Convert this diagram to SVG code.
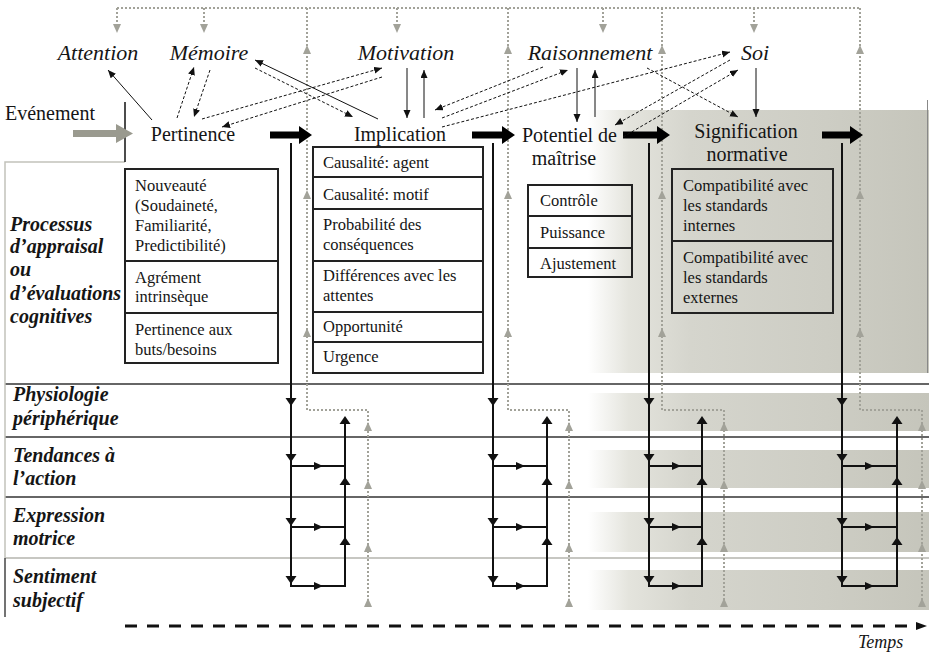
<svg xmlns="http://www.w3.org/2000/svg" width="929" height="656" viewBox="0 0 929 656" font-family="'Liberation Serif', 'Times New Roman', Tinos, 'DejaVu Serif', serif">
<style>
text{font-family:'Liberation Serif','Times New Roman',Tinos,'DejaVu Serif',serif;fill:#151515}
.top{font-size:22px;font-style:italic}
.stage{font-size:20px}
.box{font-size:16.5px}
.lab{font-size:20px;font-style:italic;font-weight:bold}
.frame{fill:none;stroke:#222;stroke-width:2}
.thin{fill:none;stroke:#111;stroke-width:1;marker-end:url(#ah)}
.dash{stroke-dasharray:3 2}
.flow{fill:none;stroke:#111;stroke-width:2}
.dot{fill:none;stroke:#a2a299;stroke-width:2;stroke-dasharray:2 2}
.row{stroke:#333;stroke-width:1.5}
</style>
<defs>
<linearGradient id="g" gradientUnits="userSpaceOnUse" x1="588" y1="0" x2="929" y2="0">
<stop offset="0" stop-color="#ffffff"/>
<stop offset="0.12" stop-color="#e4e4dd"/>
<stop offset="0.3" stop-color="#d5d5cd"/>
<stop offset="0.7" stop-color="#cdcdc4"/>
<stop offset="1" stop-color="#c5c5bb"/>
</linearGradient>
<marker id="ah" markerUnits="userSpaceOnUse" markerWidth="9" markerHeight="8" refX="8" refY="3.5" orient="auto">
<path d="M0,0 L8,3.5 L0,7 z" fill="#111"/>
</marker>
<path id="dn" d="M-5.5,-8 L5.5,-8 L0,0 z" fill="#111"/>
<path id="up" d="M-5.5,8 L5.5,8 L0,0 z" fill="#111"/>
<path id="rt" d="M-9,-4 L0,0 L-9,4 z" fill="#111"/>
<path id="gup" d="M-4,9 L4,9 L0,0 z" fill="#a2a299"/>
<path id="gdn" d="M-4,-9 L4,-9 L0,0 z" fill="#a2a299"/>
</defs>

<g id="background">
<rect x="588" y="110" width="341" height="263" fill="url(#g)"/>
<rect x="588" y="393" width="341" height="38" fill="url(#g)"/>
<rect x="588" y="450" width="341" height="38" fill="url(#g)"/>
<rect x="588" y="512" width="341" height="40" fill="url(#g)"/>
<rect x="570" y="570" width="359" height="40" fill="url(#g)"/>
<line x1="927.5" y1="100" x2="927.5" y2="373" stroke="#888" stroke-width="1"/>
<line x1="5" y1="384" x2="929" y2="384" class="row"/>
<line x1="5" y1="437" x2="929" y2="437" class="row"/>
<line x1="5" y1="497" x2="929" y2="497" class="row"/>
<line x1="5" y1="558" x2="929" y2="558" stroke="#b5b5ae" stroke-width="1.5"/>
<path d="M125,162 H5 V558" fill="none" stroke="#c2c2bb" stroke-width="1.5"/>
<line x1="5" y1="558" x2="5" y2="617" stroke="#444" stroke-width="1.5"/>
<line x1="125" y1="102" x2="125" y2="162" stroke="#111" stroke-width="1.5"/>
</g>

<g id="labels">
<text class="lab" x="10" y="231">Processus</text>
<text class="lab" x="10" y="253">d’appraisal</text>
<text class="lab" x="10" y="276">ou</text>
<text class="lab" x="10" y="300">d’évaluations</text>
<text class="lab" x="10" y="323">cognitives</text>
<text class="lab" x="13" y="401">Physiologie</text>
<text class="lab" x="13" y="425">périphérique</text>
<text class="lab" x="13" y="462">Tendances à</text>
<text class="lab" x="13" y="485">l’action</text>
<text class="lab" x="13" y="522">Expression</text>
<text class="lab" x="13" y="545">motrice</text>
<text class="lab" x="13" y="583">Sentiment</text>
<text class="lab" x="13" y="607">subjectif</text>
</g>

<g id="attention"><text class="top" x="98" y="60" text-anchor="middle">Attention</text></g>
<g id="memoire"><text class="top" x="209" y="60" text-anchor="middle">Mémoire</text></g>
<g id="motivation"><text class="top" x="406" y="60" text-anchor="middle">Motivation</text></g>
<g id="raisonnement"><text class="top" x="590" y="60" text-anchor="middle">Raisonnement</text></g>
<g id="soi"><text class="top" x="755" y="60" text-anchor="middle">Soi</text></g>

<g id="evenement"><text class="stage" x="5" y="120">Evénement</text></g>

<g id="pertinence">
<text class="stage" x="193" y="141" text-anchor="middle">Pertinence</text>
<rect class="frame" x="125" y="169" width="153" height="194"/>
<line class="frame" x1="125" y1="261" x2="278" y2="261"/>
<line class="frame" x1="125" y1="313" x2="278" y2="313"/>
<text class="box" x="135" y="191">Nouveauté</text>
<text class="box" x="135" y="211">(Soudaineté,</text>
<text class="box" x="135" y="231">Familiarité,</text>
<text class="box" x="135" y="251">Predictibilité)</text>
<text class="box" x="135" y="283">Agrément</text>
<text class="box" x="135" y="302">intrinsèque</text>
<text class="box" x="135" y="335">Pertinence aux</text>
<text class="box" x="135" y="355">buts/besoins</text>
</g>

<g id="implication">
<text class="stage" x="400" y="141" text-anchor="middle">Implication</text>
<rect class="frame" x="313" y="147" width="170" height="226"/>
<line class="frame" x1="313" y1="177" x2="483" y2="177"/>
<line class="frame" x1="313" y1="209" x2="483" y2="209"/>
<line class="frame" x1="313" y1="261" x2="483" y2="261"/>
<line class="frame" x1="313" y1="312" x2="483" y2="312"/>
<line class="frame" x1="313" y1="342" x2="483" y2="342"/>
<text class="box" x="323" y="168">Causalité: agent</text>
<text class="box" x="323" y="200">Causalité: motif</text>
<text class="box" x="323" y="230">Probabilité des</text>
<text class="box" x="323" y="250">conséquences</text>
<text class="box" x="323" y="281">Différences avec les</text>
<text class="box" x="323" y="301">attentes</text>
<text class="box" x="323" y="332">Opportunité</text>
<text class="box" x="323" y="362">Urgence</text>
</g>

<g id="potentiel">
<text class="stage" x="522" y="142">Potentiel de</text>
<text class="stage" x="564" y="165" text-anchor="middle">maîtrise</text>
<rect class="frame" x="528" y="185" width="104" height="92"/>
<line class="frame" x1="528" y1="216" x2="632" y2="216"/>
<line class="frame" x1="528" y1="248" x2="632" y2="248"/>
<text class="box" x="540" y="206">Contrôle</text>
<text class="box" x="540" y="238">Puissance</text>
<text class="box" x="540" y="269">Ajustement</text>
</g>

<g id="signification">
<text class="stage" x="746" y="138" text-anchor="middle">Signification</text>
<text class="stage" x="747" y="161" text-anchor="middle">normative</text>
<rect class="frame" x="672" y="169" width="161" height="144"/>
<line class="frame" x1="672" y1="241" x2="833" y2="241"/>
<text class="box" x="683" y="191">Compatibilité avec</text>
<text class="box" x="683" y="211">les standards</text>
<text class="box" x="683" y="231">internes</text>
<text class="box" x="683" y="263">Compatibilité avec</text>
<text class="box" x="683" y="283">les standards</text>
<text class="box" x="683" y="303">externes</text>
</g>

<g id="temps"><text class="top" x="858" y="648" style="font-size:18px">Temps</text></g>

<g id="connectors">
<path class="dot" d="M117,8 H860"/>
<path class="dot" d="M117,8 V26 M204,8 V26 M397,8 V26 M603,8 V26 M754,8 V26"/>
<use href="#gdn" x="117" y="33"/><use href="#gdn" x="204" y="33"/><use href="#gdn" x="397" y="33"/><use href="#gdn" x="603" y="33"/><use href="#gdn" x="754" y="33"/>
<path class="dot" d="M307,8 V410 H368 V606"/>
<path class="dot" d="M508,8 V410 H569 V606"/>
<path class="dot" d="M662,8 V410 H724 V606"/>
<path class="dot" d="M860,8 V410 H922 V606"/>
<use href="#gup" x="307" y="45"/><use href="#gup" x="307" y="190"/><use href="#gup" x="307" y="328"/>
<use href="#gup" x="368" y="422"/><use href="#gup" x="368" y="480"/><use href="#gup" x="368" y="543"/><use href="#gup" x="368" y="598"/>
<use href="#gup" x="508" y="45"/><use href="#gup" x="508" y="190"/><use href="#gup" x="508" y="328"/>
<use href="#gup" x="569" y="422"/><use href="#gup" x="569" y="480"/><use href="#gup" x="569" y="543"/><use href="#gup" x="569" y="598"/>
<use href="#gup" x="662" y="45"/><use href="#gup" x="662" y="190"/><use href="#gup" x="662" y="328"/>
<use href="#gup" x="724" y="422"/><use href="#gup" x="724" y="480"/><use href="#gup" x="724" y="543"/><use href="#gup" x="724" y="598"/>
<use href="#gup" x="860" y="45"/><use href="#gup" x="860" y="190"/><use href="#gup" x="860" y="328"/>
<use href="#gup" x="922" y="422"/><use href="#gup" x="922" y="480"/><use href="#gup" x="922" y="543"/><use href="#gup" x="922" y="598"/>

<polygon points="73,130 116,130 116,124 133,133.5 116,143 116,137 73,137" fill="#9a9a8f"/>
<polygon points="270,131.5 299,131.5 299,126 312,135 299,144 299,138.5 270,138.5" fill="#000"/>
<polygon points="472,131.5 502,131.5 502,126 515,135 502,144 502,138.5 472,138.5" fill="#000"/>
<polygon points="623,131.5 657,131.5 657,126 670,135 657,144 657,138.5 623,138.5" fill="#000"/>
<polygon points="822,131.5 850,131.5 850,126 863,135 850,144 850,138.5 822,138.5" fill="#000"/>

<line class="thin" x1="152" y1="120" x2="108" y2="70"/>
<line class="thin dash" x1="177" y1="118" x2="194" y2="67"/>
<line class="thin dash" x1="210" y1="70" x2="194" y2="117"/>
<line class="thin dash" x1="202" y1="119" x2="382" y2="68"/>
<line class="thin dash" x1="382" y1="77" x2="222" y2="127"/>
<line class="thin" x1="378" y1="119" x2="255" y2="60"/>
<line class="thin dash" x1="255" y1="68" x2="353" y2="117"/>
<line class="thin" x1="407" y1="68" x2="407" y2="118"/>
<line class="thin" x1="424" y1="118" x2="424" y2="70"/>
<line class="thin dash" x1="543" y1="67" x2="435" y2="110"/>
<line class="thin dash" x1="442" y1="118" x2="568" y2="70"/>
<line class="thin dash" x1="442" y1="127" x2="730" y2="52"/>
<line class="thin" x1="577" y1="68" x2="577" y2="122"/>
<line class="thin" x1="595" y1="117" x2="595" y2="70"/>
<line class="thin dash" x1="730" y1="60" x2="615" y2="125"/>
<line class="thin dash" x1="623" y1="137" x2="738" y2="70"/>
<line class="thin dash" x1="647" y1="68" x2="738" y2="117"/>
<line class="thin" x1="756" y1="68" x2="756" y2="117"/>

<path class="flow" d="M291,143 V586 H345 V418 M291,466 H345 M291,527 H345"/>
<use href="#dn" x="291" y="406"/><use href="#dn" x="291" y="462"/><use href="#dn" x="291" y="526"/><use href="#dn" x="291" y="584"/>
<use href="#rt" x="323" y="466"/><use href="#rt" x="323" y="527"/><use href="#rt" x="323" y="586"/>
<use href="#up" x="345" y="416"/><use href="#up" x="345" y="477"/><use href="#up" x="345" y="537"/>

<path class="flow" d="M493,143 V586 H547 V418 M493,466 H547 M493,527 H547"/>
<use href="#dn" x="493" y="406"/><use href="#dn" x="493" y="462"/><use href="#dn" x="493" y="526"/><use href="#dn" x="493" y="584"/>
<use href="#rt" x="525" y="466"/><use href="#rt" x="525" y="527"/><use href="#rt" x="525" y="586"/>
<use href="#up" x="547" y="416"/><use href="#up" x="547" y="477"/><use href="#up" x="547" y="537"/>

<path class="flow" d="M649,143 V586 H702 V418 M649,466 H702 M649,527 H702"/>
<use href="#dn" x="649" y="406"/><use href="#dn" x="649" y="462"/><use href="#dn" x="649" y="526"/><use href="#dn" x="649" y="584"/>
<use href="#rt" x="681" y="466"/><use href="#rt" x="681" y="527"/><use href="#rt" x="681" y="586"/>
<use href="#up" x="702" y="416"/><use href="#up" x="702" y="477"/><use href="#up" x="702" y="537"/>

<path class="flow" d="M842,143 V586 H897 V418 M842,466 H897 M842,527 H897"/>
<use href="#dn" x="842" y="406"/><use href="#dn" x="842" y="462"/><use href="#dn" x="842" y="526"/><use href="#dn" x="842" y="584"/>
<use href="#rt" x="874" y="466"/><use href="#rt" x="874" y="527"/><use href="#rt" x="874" y="586"/>
<use href="#up" x="897" y="416"/><use href="#up" x="897" y="477"/><use href="#up" x="897" y="537"/>

<line x1="125" y1="626" x2="916" y2="626" stroke="#111" stroke-width="3" stroke-dasharray="12 10"/>
<polygon points="916,622 927,626 916,630" fill="#111"/>
</g>
</svg>
